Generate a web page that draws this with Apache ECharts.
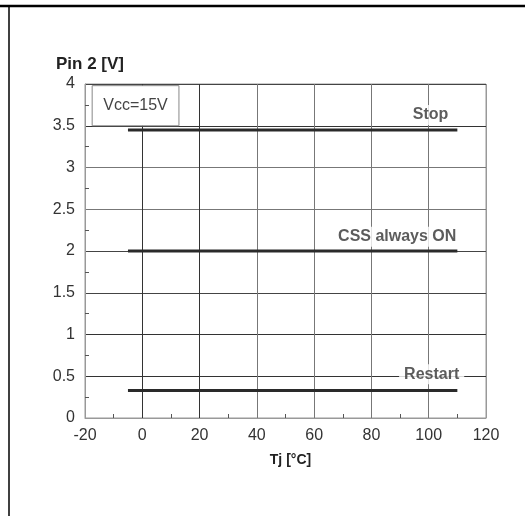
<!DOCTYPE html>
<html>
<head>
<meta charset="utf-8">
<script src="https://cdn.jsdelivr.net/npm/echarts@6/dist/echarts.min.js"></script>
<style>html,body{margin:0;padding:0;background:#fff}#c{width:525px;height:516px}</style>
</head>
<body>
<div id="c"></div>
<script>
// Data
var tempRange = [-5, 110];           // Tj [°C] extent of each curve
var stopLevel = [3.45, 3.45];        // Stop threshold [V]
var cssLevel = [2.0, 2.0];           // CSS always ON [V]
var restartLevel = [0.33, 0.33];     // Restart [V]
var curveLabels = [
  [108.6, 3.63, 'Stop'],
  [111.4, 2.17, 'CSS always ON'],
  [112.4, 0.525, 'Restart']
];
var noteBox = [[-17.5, 3.5], [12.8, 3.98]];
var noteText = 'Vcc=15V';
var xTicks = [-20, 0, 20, 40, 60, 80, 100, 120];
var yTicks = [0, 0.5, 1, 1.5, 2, 2.5, 3, 3.5, 4];

function pts(xs, ys) { return xs.map(function (x, i) { return [x, ys[i]]; }); }

var font = 'Liberation Sans, Arial, sans-serif';
var chart = echarts.init(document.getElementById('c'), null, {renderer: 'canvas'});
var lineStyle = {color: '#2a2a2a', width: 3};

chart.setOption({
  animation: false,
  backgroundColor: '#fff',
  title: {
    text: 'Pin 2 [V]', left: 51, top: 51,
    textStyle: {fontFamily: font, fontSize: 17, fontWeight: 'bold', color: '#222'}
  },
  graphic: [
    {type: 'line', shape: {x1: 0, y1: 6, x2: 525, y2: 6}, style: {stroke: '#000', lineWidth: 2.5}},
    {type: 'line', shape: {x1: 9, y1: 6, x2: 9, y2: 516}, style: {stroke: '#000', lineWidth: 1.5}}
  ],
  grid: {left: 85, right: 39, top: 84, bottom: 98, show: true, borderColor: '#999', borderWidth: 1},
  xAxis: {
    type: 'value', min: xTicks[0], max: xTicks[xTicks.length - 1], interval: 20,
    name: 'Tj [°C]', nameLocation: 'middle', nameGap: 35,
    nameTextStyle: {fontFamily: font, fontSize: 14, fontWeight: 'bold', color: '#222', padding: [0, 0, 0, 10]},
    axisLine: {show: true, onZero: false, lineStyle: {color: '#999'}},
    axisTick: {show: false, inside: true},
    minorTick: {show: true, splitNumber: 2, length: 4, lineStyle: {color: '#555'}},
    axisLabel: {fontFamily: font, fontSize: 16, color: '#333', margin: 10},
    splitLine: {show: true, lineStyle: {color: ['#999', '#333', '#333', '#777', '#777', '#777', '#777', '#999'], width: 1}}
  },
  yAxis: {
    type: 'value', min: yTicks[0], max: yTicks[yTicks.length - 1], interval: 0.5,
    axisLine: {show: true, onZero: false, lineStyle: {color: '#999'}},
    axisTick: {show: false, inside: true},
    minorTick: {show: true, splitNumber: 2, length: 4, lineStyle: {color: '#555'}},
    axisLabel: {fontFamily: font, fontSize: 16, color: '#333', margin: 10},
    splitLine: {show: true, lineStyle: {color: ['#999', '#333', '#333', '#444', '#444', '#777', '#777', '#333', '#444'], width: 1}}
  },
  series: [
    {
      type: 'line', data: pts(tempRange, stopLevel), symbol: 'none', lineStyle: lineStyle, z: 3,
      markArea: {
        silent: true,
        itemStyle: {color: '#fff', borderColor: '#888', borderWidth: 1},
        label: {show: true, position: 'inside', formatter: noteText, fontFamily: font, fontSize: 16, color: '#444', padding: [6, 0, 0, 0]},
        data: [[{coord: noteBox[0]}, {coord: noteBox[1]}]]
      }
    },
    {type: 'line', data: pts(tempRange, cssLevel), symbol: 'none', lineStyle: lineStyle, z: 3},
    {type: 'line', data: pts(tempRange, restartLevel), symbol: 'none', lineStyle: lineStyle, z: 3},
    {
      type: 'scatter', data: curveLabels, symbolSize: 0, z: 4, silent: true,
      label: {
        show: true, position: 'left', distance: 0,
        formatter: function (p) { return p.data[2]; },
        fontFamily: font, fontSize: 16, fontWeight: 'bold', color: '#333',
        backgroundColor: '#fff', padding: [2, 5, 2, 5]
      }
    }
  ]
});
</script>
</body>
</html>
